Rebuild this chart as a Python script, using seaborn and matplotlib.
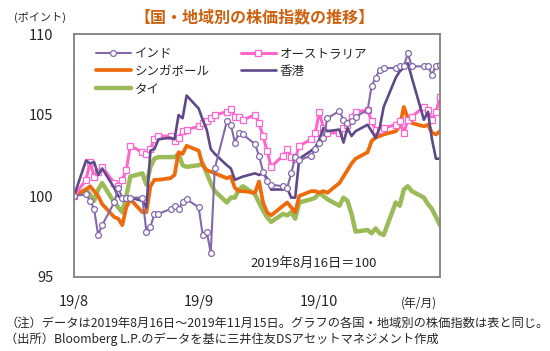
import numpy as np
import pandas as pd
import matplotlib
matplotlib.use('Agg')
import matplotlib.pyplot as plt
from matplotlib.lines import Line2D
import seaborn as sns

# ---------------- data ----------------
dates = pd.bdate_range('2019-08-16', '2019-11-15')

india = [100.0,
         100.1, 99.7, 99.2, 97.6, 98.2,
         99.6, 100.5, 99.9, 99.9, 99.9,
         99.9, 97.8, 98.1, 98.9, 98.9,
         99.2, 99.4, 99.2, 99.6, 99.8,
         99.3, 97.6, 97.8, 96.5, 101.7,
         104.6, 104.4, 103.3, 103.9, 103.8,
         103.2, 102.5, 101.5, 100.9, 100.7,
         100.6, 100.5, 101.4, 102.4, 102.2,
         102.5, 102.9, 103.3, 103.6, 104.8,
         105.25, 104.7, 104.5, 104.6, 104.9,
         105.3, 106.8, 107.3, 107.8, 107.9,
         107.9, 108.0, 108.0, 108.8, 108.0,
         108.0, 108.0, 107.5, 108.0, 108.1]

australia = [100.0,
             101.0, 102.1, 101.2, 101.5, 101.8,
             100.8, 100.6, 101.0, 101.6, 103.1,
             102.7, 102.6, 102.9, 103.5, 103.7,
             103.7, 103.4, 103.6, 104.0, 104.1,
             104.3, 104.5, 104.6, 104.8, 105.0,
             105.2, 105.4, 104.9, 104.9, 104.7,
             105.0, 104.5, 103.7, 102.8, 101.8,
             102.5, 102.9, 102.4, 102.3, 103.1,
             103.5, 103.9, 105.2, 104.2, 103.9,
             103.9, 104.2, 104.4, 104.9, 105.2,
             105.3, 104.6, 104.1, 104.1, 104.2,
             104.4, 104.6, 103.9, 104.7, 104.9,
             105.5, 105.3, 104.7, 105.2, 106.1]

singapore = [100.0,
             100.4, 100.6, 100.3, 100.0, 99.5,
             98.7, 98.6, 98.2, 99.3, 99.8,
             99.0, 99.0, 100.6, 101.0, 101.0,
             101.1, 101.3, 102.7, 102.6, 103.1,
             102.8, 101.9, 101.6, 101.5, 101.4,
             101.1, 101.2, 100.5, 100.3, 100.3,
             100.2, 100.9, 99.6, 99.0, 98.8,
             99.4, 99.6, 99.3, 99.0, 100.0,
             100.3, 100.3, 100.2, 100.3, 100.2,
             100.8, 101.2, 101.6, 102.0, 102.3,
             102.7, 103.4, 103.6, 103.7, 103.8,
             104.0, 104.3, 105.5, 104.8, 104.5,
             104.3, 104.4, 103.9, 103.8, 104.0]

hongkong = [100.0,
            102.2, 102.0, 102.1, 101.3, 101.7,
            100.5, 100.0, 99.8, 99.9, 99.9,
            99.7, 99.3, 102.8, 102.9, 103.5,
            103.6, 103.5, 105.0, 104.8, 106.2,
            105.4, 104.7, 104.1, 102.9, 102.6,
            101.9, 101.7, 101.0, 101.1, 101.2,
            101.4, 101.3, 101.4, 101.1, 100.4,
            100.4, 100.5, 99.9, 99.9, 102.3,
            102.8, 103.0, 103.5, 104.2, 104.0,
            104.1, 103.3, 104.2, 103.7, 104.0,
            104.4, 104.0, 103.6, 104.2, 105.5,
            107.3, 107.7, 107.9, 108.2, 107.3,
            104.7, 105.2, 103.5, 102.3, 102.3]

thailand = [100.0,
            100.4, 100.1, 99.7, 100.4, 100.8,
            99.6, 99.3, 99.0, 100.0, 101.2,
            101.4, 100.7, 101.8, 102.3, 102.4,
            102.4, 102.4, 102.6, 101.9, 101.8,
            101.9, 102.0, 101.4, 100.8, 100.3,
            99.6, 99.9, 99.9, 100.4, 100.6,
            100.1, 99.6, 99.1, 98.7, 98.4,
            98.9, 98.8, 99.0, 98.6, 99.6,
            99.8, 99.9, 100.2, 100.0, 99.8,
            99.4, 99.9, 99.7, 98.9, 97.8,
            97.9, 97.7, 98.0, 97.7, 97.6,
            99.6, 99.4, 100.4, 100.6, 100.3,
            99.9, 99.5, 99.2, 98.7, 98.2]

names = ['インド', 'オーストラリア', 'シンガポール', '香港', 'タイ']
x_tick_dates = ['2019-08-16', '2019-09-16', '2019-10-16']
x_tick_labels = ['19/8', '19/9', '19/10']
y_ticks = [95, 100, 105, 110]

df = pd.DataFrame({'date': dates, 'インド': india, 'オーストラリア': australia,
                   'シンガポール': singapore, '香港': hongkong, 'タイ': thailand})

# ---------------- style ----------------
sns.set_style('white')
plt.rcParams['font.family'] = ['Noto Sans CJK JP', 'DejaVu Sans']

styles = {
    'タイ': dict(color='#9BBB59', linewidth=3.2),
    'シンガポール': dict(color='#EE6A0C', linewidth=2.7),
    'オーストラリア': dict(color='#FF66CC', linewidth=2.2, marker='s', markersize=4.2,
                    markerfacecolor='white', markeredgecolor='#FF66CC', markeredgewidth=0.9),
    '香港': dict(color='#5E4A88', linewidth=1.9),
    'インド': dict(color='#8468AC', linewidth=1.5, marker='o', markersize=4.2,
                markerfacecolor='white', markeredgecolor='#8468AC', markeredgewidth=0.9),
}
draw_order = ['タイ', 'シンガポール', 'オーストラリア', '香港', 'インド']

fig = plt.figure(figsize=(5.5, 3.51), dpi=100)
ax = fig.add_axes([74/550, 1-277/351, 366/550, 243/351])

for n in draw_order:
    sns.lineplot(data=df, x='date', y=n, ax=ax, legend=False, **styles[n])

ax.set_xlim(pd.Timestamp('2019-08-16'), pd.Timestamp('2019-11-15'))
ax.set_ylim(95, 110)
ax.set_xlabel('')
ax.set_ylabel('')
ax.set_xticks([pd.Timestamp(d) for d in x_tick_dates])
ax.set_xticklabels(x_tick_labels, fontsize=10.5)
ax.set_yticks(y_ticks)
ax.set_yticklabels([str(v) for v in y_ticks], fontsize=10.5)
ax.tick_params(axis='x', direction='in', length=4, width=0.8, color='#888888', pad=13)
ax.tick_params(axis='y', direction='in', length=4, width=0.8, color='#888888', pad=15)
for s in ax.spines.values():
    s.set_color('#808080')
    s.set_linewidth(1.3)

# legend
labels = ['インド', 'シンガポール', 'タイ', 'オーストラリア', '香港']
handles = [Line2D([], [], **styles[n]) for n in labels]
ax.legend(handles, labels, ncol=2, loc='upper left', bbox_to_anchor=(0.06, 0.946),
          frameon=False, fontsize=9, handlelength=2.8, handletextpad=0.3,
          columnspacing=2.5, labelspacing=0.38, borderpad=0, borderaxespad=0)

# texts
fig.text(255/550, 1-17/351, '【国・地域別の株価指数の推移】', ha='center', va='center',
         fontsize=11.5, fontweight='bold', color='#CF610E')
fig.text(40/550, 1-17/351, '(ポイント)', ha='center', va='center', fontsize=8)
fig.text(250/550, 1-263/351, '2019年8月16日＝100', ha='left', va='center', fontsize=9.5)
fig.text(419/550, 1-303/351, '(年/月)', ha='center', va='center', fontsize=8.5)
fig.text(5/550, 1-323/351, '（注）データは2019年8月16日～2019年11月15日。グラフの各国・地域別の株価指数は表と同じ。',
         ha='left', va='center', fontsize=8.8)
fig.text(5/550, 1-339/351, '（出所）Bloomberg L.P.のデータを基に三井住友DSアセットマネジメント作成',
         ha='left', va='center', fontsize=8.8)

fig.savefig('out.png', dpi=100)
